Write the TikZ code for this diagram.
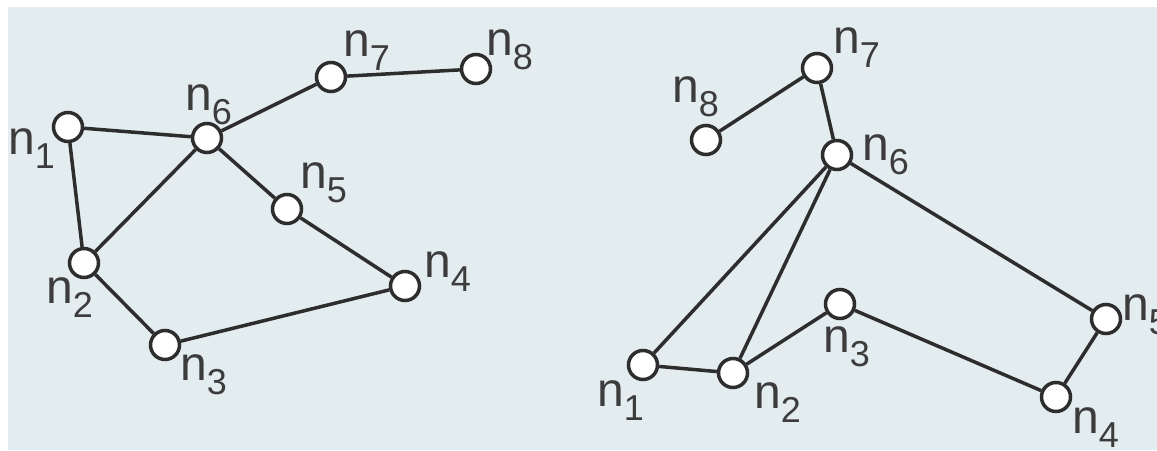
\documentclass[tikz,border=0pt]{standalone}
\usepackage{fontspec}
\setmainfont{Liberation Sans}
\definecolor{bgc}{RGB}{227,236,239}
\definecolor{edgec}{RGB}{45,45,45}
\definecolor{txtc}{RGB}{60,60,60}
\newcommand{\sbs}[1]{\raisebox{-14pt}{\fontsize{36}{36}\selectfont #1}}
\begin{document}
\begin{tikzpicture}[x=1pt,y=-1pt,
  vtx/.style={circle,draw=edgec,fill=white,line width=3.5pt,minimum size=29pt,inner sep=0pt},
  lbl/.style={anchor=base west,inner sep=0pt,text=txtc,font=\fontsize{48}{48}\selectfont},
  edge/.style={draw=edgec,line width=3.5pt}]
\useasboundingbox (0,0) rectangle (1157,450);
\fill[white] (0,0) rectangle (1157,450);
\fill[bgc] (8,7) rectangle (1157,450);
% left graph
\node[vtx] (a1) at (68,127) {};
\node[vtx] (a2) at (84,263) {};
\node[vtx] (a3) at (165,345) {};
\node[vtx] (a4) at (405,286) {};
\node[vtx] (a5) at (287,209) {};
\node[vtx] (a6) at (207,138) {};
\node[vtx] (a7) at (331,77) {};
\node[vtx] (a8) at (476,69) {};
\draw[edge] (a1) -- (a6);
\draw[edge] (a1) -- (a2);
\draw[edge] (a2) -- (a6);
\draw[edge] (a2) -- (a3);
\draw[edge] (a3) -- (a4);
\draw[edge] (a4) -- (a5);
\draw[edge] (a5) -- (a6);
\draw[edge] (a6) -- (a7);
\draw[edge] (a7) -- (a8);
\node[lbl] (la1) at (8,154) {n\sbs{1}};
\node[lbl] (la2) at (46,303) {n\sbs{2}};
\node[lbl] (la3) at (180,380) {n\sbs{3}};
\node[lbl] (la4) at (424,277) {n\sbs{4}};
\node[lbl] (la5) at (300,188) {n\sbs{5}};
\node[lbl] (la6) at (185,110) {n\sbs{6}};
\node[lbl] (la7) at (343,56) {n\sbs{7}};
\node[lbl] (la8) at (486,55) {n\sbs{8}};
% right graph
\node[vtx] (b1) at (643,365) {};
\node[vtx] (b2) at (733,373) {};
\node[vtx] (b3) at (840,304) {};
\node[vtx] (b4) at (1056,397) {};
\node[vtx] (b5) at (1106,319) {};
\node[vtx] (b6) at (837,155) {};
\node[vtx] (b7) at (817,68) {};
\node[vtx] (b8) at (706,140) {};
\draw[edge] (b8) -- (b7);
\draw[edge] (b7) -- (b6);
\draw[edge] (b6) -- (b1);
\draw[edge] (b6) -- (b2);
\draw[edge] (b6) -- (b5);
\draw[edge] (b1) -- (b2);
\draw[edge] (b2) -- (b3);
\draw[edge] (b3) -- (b4);
\draw[edge] (b4) -- (b5);
\node[lbl] (lb1) at (597,406) {n\sbs{1}};
\node[lbl] (lb2) at (754,408) {n\sbs{2}};
\node[lbl] (lb3) at (823,352) {n\sbs{3}};
\node[lbl] (lb4) at (1072,433) {n\sbs{4}};
\node[lbl] (lb5) at (1122,320) {n\sbs{5}};
\node[lbl] (lb6) at (862,160) {n\sbs{6}};
\node[lbl] (lb7) at (833,53) {n\sbs{7}};
\node[lbl] (lb8) at (672,102) {n\sbs{8}};
\end{tikzpicture}
\end{document}
